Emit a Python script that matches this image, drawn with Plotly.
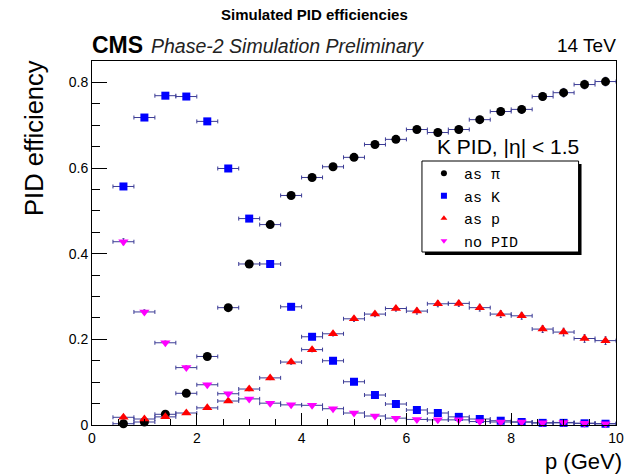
import plotly.graph_objects as go

# ---------------- data ----------------
p_centers = [0.6, 1.0, 1.4, 1.8, 2.2, 2.6, 3.0, 3.4, 3.8, 4.2, 4.6, 5.0,
             5.4, 5.8, 6.2, 6.6, 7.0, 7.4, 7.8, 8.2, 8.6, 9.0, 9.4, 9.8]
bin_half_width = [0.2] * 24

eff_as_pi = [0.003, 0.007, 0.025, 0.074, 0.160, 0.274, 0.376, 0.468, 0.536, 0.578, 0.603, 0.625,
             0.655, 0.667, 0.690, 0.683, 0.690, 0.713, 0.732, 0.737, 0.767, 0.776, 0.795, 0.802]
err_as_pi = [0.002, 0.002, 0.003, 0.004, 0.005, 0.005, 0.006, 0.006, 0.006, 0.006, 0.006, 0.006,
             0.007, 0.007, 0.007, 0.008, 0.008, 0.008, 0.009, 0.009, 0.009, 0.010, 0.010, 0.010]

eff_as_K = [0.557, 0.718, 0.769, 0.767, 0.709, 0.599, 0.482, 0.376, 0.276, 0.206, 0.150, 0.101,
            0.070, 0.049, 0.035, 0.028, 0.019, 0.014, 0.010, 0.007, 0.005, 0.005, 0.004, 0.003]
err_as_K = [0.006, 0.005, 0.005, 0.005, 0.005, 0.005, 0.006, 0.006, 0.006, 0.005, 0.005, 0.004,
            0.004, 0.003, 0.003, 0.003, 0.003, 0.002, 0.002, 0.002, 0.002, 0.002, 0.002, 0.002]

eff_as_p = [0.018, 0.014, 0.019, 0.028, 0.040, 0.056, 0.084, 0.110, 0.147, 0.176, 0.213, 0.248,
            0.259, 0.272, 0.266, 0.283, 0.284, 0.274, 0.259, 0.255, 0.224, 0.217, 0.202, 0.197]
err_as_p = [0.002, 0.002, 0.002, 0.002, 0.003, 0.003, 0.004, 0.004, 0.005, 0.005, 0.005, 0.006,
            0.006, 0.006, 0.007, 0.007, 0.007, 0.008, 0.008, 0.008, 0.008, 0.009, 0.009, 0.009]

eff_no_pid = [0.428, 0.264, 0.192, 0.134, 0.094, 0.073, 0.061, 0.051, 0.047, 0.046, 0.038, 0.028,
              0.021, 0.016, 0.013, 0.012, 0.012, 0.008, 0.007, 0.007, 0.005, 0.006, 0.004, 0.003]
err_no_pid = [0.007, 0.005, 0.004, 0.004, 0.003, 0.003, 0.003, 0.003, 0.003, 0.003, 0.003, 0.002,
              0.002, 0.002, 0.002, 0.002, 0.002, 0.002, 0.002, 0.002, 0.002, 0.002, 0.002, 0.002]

series_names = ["as \u03c0", "as K", "as p", "no PID"]
series_values = [eff_as_pi, eff_as_K, eff_as_p, eff_no_pid]
series_errors = [err_as_pi, err_as_K, err_as_p, err_no_pid]
series_colors = ["#000000", "#0000ff", "#ff0000", "#ff00ff"]
series_symbols = ["circle", "square", "triangle-up", "triangle-down"]
series_sizes = [9, 8, 9, 9]

x_tick_vals = [0, 2, 4, 6, 8, 10]
y_tick_vals = [0, 0.2, 0.4, 0.6, 0.8]
y_tick_text = ["0", "0.2", "0.4", "0.6", "0.8"]

# ---------------- figure ----------------
ERR_COLOR = "#3c3c96"
SANS = "Liberation Sans, Arial, Helvetica, sans-serif"
MONO = "Liberation Mono, Courier New, monospace"

fig = go.Figure()

for name, vals, errs, col, sym, sz in zip(series_names, series_values, series_errors,
                                          series_colors, series_symbols, series_sizes):
    fig.add_trace(go.Scatter(
        x=p_centers, y=vals, mode="markers", name=name, showlegend=False,
        cliponaxis=False,
        marker=dict(color=col, symbol=sym, size=sz, line=dict(width=0)),
        error_x=dict(type="data", array=bin_half_width, visible=True,
                     color=ERR_COLOR, thickness=1, width=2),
        error_y=dict(type="data", array=errs, visible=True,
                     color=ERR_COLOR, thickness=1, width=1),
    ))

# legend entries (small markers as in the reference legend)
for name, col, sym in zip(series_names, series_colors, series_symbols):
    fig.add_trace(go.Scatter(
        x=[None], y=[None], mode="markers", name=name, showlegend=True,
        marker=dict(color=col, symbol=sym, size=6, line=dict(width=0)),
    ))

L, R, T, B = 92, 10, 61, 51
W, H = 634, 476
pw, ph = W - L - R, H - T - B


def px(xp):
    return (xp - L) / pw


def py(yp):
    return (H - B - yp) / ph


axis_common = dict(
    showline=True, linecolor="black", linewidth=1, mirror=True,
    ticks="inside", tickcolor="black", showgrid=False, zeroline=False,
    tickfont=dict(family=SANS, size=14, color="black"),
)

fig.update_xaxes(
    range=[0, 10], tickvals=x_tick_vals, ticklen=12,
    minor=dict(ticks="inside", ticklen=6, dtick=0.5, tickcolor="black", showgrid=False),
    ticklabeloverflow="allow",
    **axis_common,
)
fig.update_yaxes(
    range=[0, 0.85], tickvals=y_tick_vals, ticktext=y_tick_text, ticklen=15,
    minor=dict(ticks="inside", ticklen=8, dtick=0.05, tickcolor="black", showgrid=False),
    **axis_common,
)

# legend box with shadow
bx0, bx1, by0, by1 = 427, 586, 161, 252
fig.add_shape(type="rect", xref="paper", yref="paper",
              x0=px(bx0 + 3), x1=px(bx1 + 3), y0=py(by1 + 3), y1=py(by0 + 3),
              fillcolor="black", line=dict(width=0), layer="above")
fig.add_shape(type="rect", xref="paper", yref="paper",
              x0=px(bx0), x1=px(bx1), y0=py(by1), y1=py(by0),
              fillcolor="white", line=dict(color="black", width=1), layer="above")

annotations = [
    dict(text="<b>Simulated PID efficiencies</b>", x=px(318), y=py(14), xanchor="center",
         yanchor="middle", font=dict(family=SANS, size=15, color="black")),
    dict(text="<b>CMS</b>", x=px(90), y=py(45), xanchor="left", yanchor="middle",
         font=dict(family=SANS, size=23, color="black")),
    dict(text="<i>Phase-2 Simulation Preliminary</i>", x=px(150), y=py(46), xanchor="left",
         yanchor="middle", font=dict(family=SANS, size=19.5, color="#222222")),
    dict(text="14 TeV", x=px(626), y=py(46), xanchor="right", yanchor="middle",
         font=dict(family=SANS, size=19, color="black")),
    dict(text="K PID, |\u03b7| < 1.5", x=px(440), y=py(146), xanchor="left", yanchor="middle",
         font=dict(family=SANS, size=21, color="black")),
    dict(text="p (GeV)", x=px(632), y=py(461), xanchor="right", yanchor="middle",
         font=dict(family=SANS, size=22, color="black")),
    dict(text="PID efficiency", x=px(33), y=py(58), xanchor="center", yanchor="top",
         textangle=-90, font=dict(family=SANS, size=25.5, color="black")),
]
for a in annotations:
    a.update(xref="paper", yref="paper", showarrow=False)

fig.update_layout(
    width=W, height=H,
    margin=dict(l=L, r=R, t=T, b=B, pad=0),
    paper_bgcolor="white", plot_bgcolor="white",
    annotations=annotations,
    legend=dict(x=px(bx0 + 2), y=py(by0 - 4), xanchor="left", yanchor="top",
                bgcolor="rgba(0,0,0,0)", borderwidth=0,
                font=dict(family=MONO, size=15, color="black"),
                itemsizing="trace", tracegroupgap=0),
    showlegend=True,
)

fig.write_html("out.html")
